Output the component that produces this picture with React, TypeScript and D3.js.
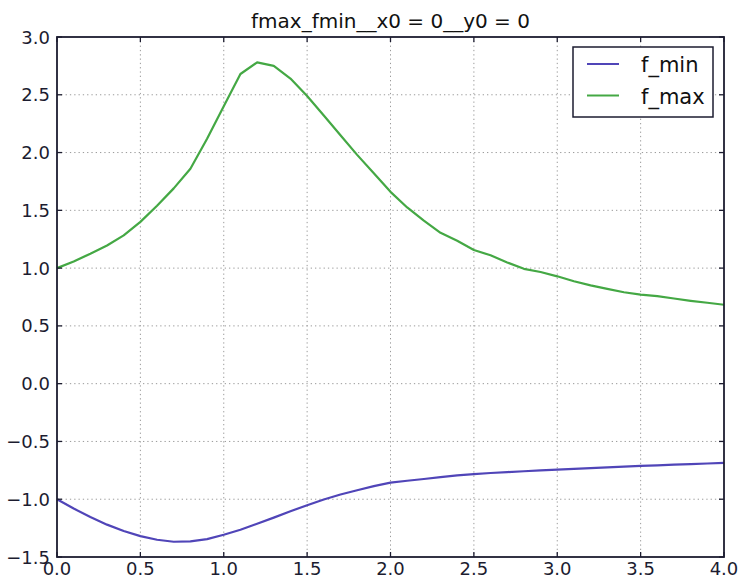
import React, { useEffect, useRef } from 'react';
import * as d3 from 'd3';

const xs = [0, 0.1, 0.2, 0.3, 0.4, 0.5, 0.6, 0.7, 0.8, 0.9, 1.0, 1.1, 1.2, 1.3, 1.4, 1.5, 1.6, 1.7, 1.8, 1.9, 2.0,
  2.1, 2.2, 2.3, 2.4, 2.5, 2.6, 2.7, 2.8, 2.9, 3.0, 3.1, 3.2, 3.3, 3.4, 3.5, 3.6, 3.7, 3.8, 3.9, 4.0];

const fMin = [-1.0, -1.081, -1.154, -1.22, -1.275, -1.319, -1.351, -1.368, -1.365, -1.345, -1.307,
  -1.264, -1.212, -1.159, -1.104, -1.052, -1.003, -0.959, -0.922, -0.887, -0.857,
  -0.84, -0.825, -0.808, -0.794, -0.782, -0.773, -0.765, -0.758, -0.751, -0.744,
  -0.737, -0.731, -0.724, -0.718, -0.712, -0.707, -0.701, -0.696, -0.691, -0.686];

const fMax = [1.0, 1.058, 1.125, 1.196, 1.283, 1.40, 1.54, 1.69, 1.86, 2.12, 2.40,
  2.68, 2.78, 2.75, 2.64, 2.49, 2.32, 2.15, 1.98, 1.82, 1.66,
  1.525, 1.41, 1.305, 1.237, 1.157, 1.111, 1.049, 0.994, 0.966, 0.929,
  0.886, 0.851, 0.82, 0.791, 0.771, 0.757, 0.737, 0.717, 0.70, 0.683];

const xTicks = [0, 0.5, 1.0, 1.5, 2.0, 2.5, 3.0, 3.5, 4.0];
const yTicks = [-1.5, -1.0, -0.5, 0.0, 0.5, 1.0, 1.5, 2.0, 2.5, 3.0];

const series = [
  { name: 'f_min', values: fMin, color: '#5045b8' },
  { name: 'f_max', values: fMax, color: '#44a844' },
];

const title = 'fmax_fmin__x0 = 0__y0 = 0';

const App = () => {
  const ref = useRef<SVGSVGElement>(null);

  useEffect(() => {
    const W = 740, H = 578;
    const left = 57, right = 724, top = 37, bottom = 557;
    const font = 'DejaVu Sans, sans-serif';
    const ink = '#1c1c30';

    const svg = d3.select(ref.current);
    svg.selectAll('*').remove();
    svg.append('rect').attr('width', W).attr('height', H).attr('fill', '#fff');

    const x = d3.scaleLinear().domain([0, 4]).range([left, right]);
    const y = d3.scaleLinear().domain([-1.5, 3]).range([bottom, top]);

    // grid
    const grid = svg.append('g').attr('stroke', '#9a9a9a').attr('stroke-width', 1).attr('stroke-dasharray', '1.3,3');
    grid.selectAll('line.vx').data(xTicks.slice(1, -1)).enter().append('line')
      .attr('x1', (d) => x(d)).attr('x2', (d) => x(d)).attr('y1', top).attr('y2', bottom);
    grid.selectAll('line.hy').data(yTicks.slice(1, -1)).enter().append('line')
      .attr('y1', (d) => y(d)).attr('y2', (d) => y(d)).attr('x1', left).attr('x2', right);

    // lines
    const line = d3.line<number>().x((d, i) => x(xs[i])).y((d) => y(d));
    series.forEach((s) => {
      svg.append('path').datum(s.values).attr('d', line).attr('fill', 'none')
        .attr('stroke', s.color).attr('stroke-width', 2.2).attr('stroke-linejoin', 'round');
    });

    // frame
    svg.append('rect').attr('x', left).attr('y', top).attr('width', right - left).attr('height', bottom - top)
      .attr('fill', 'none').attr('stroke', ink).attr('stroke-width', 1.8);

    // ticks (inward, all sides)
    const tk = svg.append('g').attr('stroke', ink).attr('stroke-width', 1.3);
    xTicks.forEach((d) => {
      tk.append('line').attr('x1', x(d)).attr('x2', x(d)).attr('y1', bottom).attr('y2', bottom - 5);
      tk.append('line').attr('x1', x(d)).attr('x2', x(d)).attr('y1', top).attr('y2', top + 5);
    });
    yTicks.forEach((d) => {
      tk.append('line').attr('y1', y(d)).attr('y2', y(d)).attr('x1', left).attr('x2', left + 5);
      tk.append('line').attr('y1', y(d)).attr('y2', y(d)).attr('x1', right).attr('x2', right - 5);
    });

    // tick labels
    svg.append('g').selectAll('text').data(xTicks).enter().append('text')
      .attr('x', (d) => x(d)).attr('y', bottom + 18).attr('text-anchor', 'middle')
      .attr('font-family', font).attr('font-size', 18).attr('fill', ink)
      .text((d) => d.toFixed(1));
    svg.append('g').selectAll('text').data(yTicks).enter().append('text')
      .attr('x', left - 7).attr('y', (d) => y(d) + 6.5).attr('text-anchor', 'end')
      .attr('font-family', font).attr('font-size', 18).attr('fill', ink)
      .text((d) => d.toFixed(1).replace('-', '\u2212'));

    // title
    svg.append('text').attr('x', (left + right) / 2).attr('y', 28).attr('text-anchor', 'middle')
      .attr('font-family', font).attr('font-size', 20).attr('fill', '#111')
      .text(title);

    // legend
    const lg = svg.append('g');
    lg.append('rect').attr('x', 573).attr('y', 47).attr('width', 140).attr('height', 70)
      .attr('fill', '#fff').attr('stroke', ink).attr('stroke-width', 1.5);
    series.forEach((s, i) => {
      const ly = 64 + i * 31.5;
      lg.append('line').attr('x1', 587).attr('x2', 619).attr('y1', ly).attr('y2', ly)
        .attr('stroke', s.color).attr('stroke-width', 2);
      lg.append('text').attr('x', 641).attr('y', ly + 8).attr('font-family', font).attr('font-size', 21)
        .attr('fill', '#111').text(s.name);
    });
  }, []);

  return (
    <svg ref={ref} width={740} height={578} style={{ position: 'absolute', left: 0, top: 0 }} />
  );
};

export default App;
